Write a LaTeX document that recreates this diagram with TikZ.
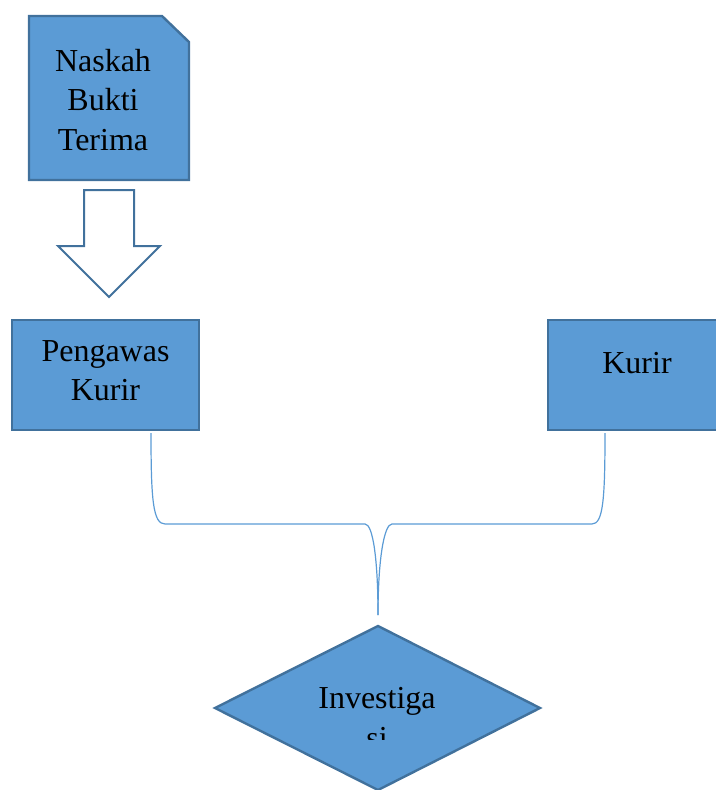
\documentclass[tikz,border=0pt]{standalone}
\usepackage{fontspec}
\setmainfont{Liberation Serif}
\usepackage{tikz}
\tikzset{>=latex}
\definecolor{boxfill}{HTML}{5B9BD5}
\definecolor{boxline}{HTML}{41719C}
\tikzset{
    box/.style={draw=boxline, line width=1.8pt, fill=boxfill, inner sep=0pt},
    brace/.style={draw=boxfill, line width=0.9pt},
    lbl/.style={align=center, font=\fontsize{24}{29.5}\selectfont}
}

\begin{document}
\begin{tikzpicture}[x=0.75pt, y=-0.75pt]
    \clip(0, 0)rectangle(716, 790);
    % dokumen
    \draw[box](29, 16)--(162, 16)--(189, 42)--(189, 180)--(29, 180)--cycle;
    \node[lbl](naskah)at(103, 100){Naskah\\Bukti\\Terima};
    % panah blok
    \draw[draw=boxline, line width=1.5pt, fill=white](84, 190)--(134, 190)--(134, 246)--(160, 246)--(109, 297)--(58, 246)--(84, 246)--cycle;
    \node[box, minimum width=140.25pt, minimum height=82.5pt, label={[lbl, yshift=3pt]center:Pengawas\\Kurir}](pk)at(105.5, 375){};
    \node[box, minimum width=133.5pt, minimum height=82.5pt, label={[lbl, yshift=9pt]center:Kurir}](kurir)at(637, 375){};
    \coordinate(pkout)at(151, 433);
    \coordinate(kout)at(605, 433);
    \coordinate(join)at(378, 615);
    \draw[brace](pkout)..controls(151, 500)and(153, 524)..(165, 524)--(365, 524)..controls(373, 524)and(378, 560)..(join);
    \draw[brace](kout)..controls(605, 500)and(603, 524)..(592, 524)--(392, 524)..controls(384, 524)and(378, 560)..(join);
    % keputusan
    \draw[box](378, 626)coordinate(inv)--(540, 708)--(378, 790)--(215, 708)--cycle;
    \begin{scope}
        \clip(200, 600)rectangle(560, 739);
        \node[lbl](invtxt)at(377, 718){Investiga\\si};
    \end{scope}
\end{tikzpicture}
\end{document}
